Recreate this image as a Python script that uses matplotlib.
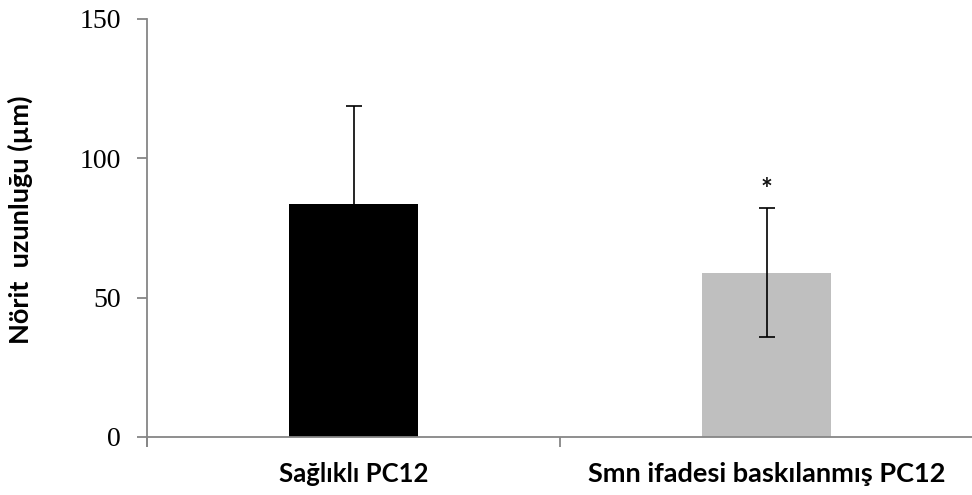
import matplotlib as mpl
mpl.use('Agg')
import matplotlib.pyplot as plt
import matplotlib.ticker as tick

# data
categories = ['Sağlıklı PC12', 'Smn ifadesi baskılanmış PC12']
means = [83.6, 59.0]
errs = [35.3, 23.0]
bar_colors = ['#000000', '#BFBFBF']
ylabel = 'Nörit  uzunluğu (µm)'
yticks = [0, 50, 100, 150]

axis_gray = '#868686'

fig = plt.figure(figsize=(9.72, 4.95), dpi=100)
ax = fig.add_axes([147/972, 1-437/495, (973-147)/972, (437-19)/495])

x = list(range(len(categories)))
ax.bar(x, means, width=0.31, color=bar_colors, zorder=2)
ax.errorbar(x, means, yerr=errs, fmt='none', ecolor='#000000', elinewidth=1.2,
            capsize=6, capthick=1.2, zorder=3)

# significance mark over the second bar
ax.text(x[1], means[1] + errs[1] + 6.5, '*', ha='center', va='center',
        fontsize=20, fontweight='bold', family='Lato', color='#111111')

ax.set_xlim(-0.5, len(categories) - 0.5)
ax.set_ylim(0, 150)

for s in ['top', 'right']:
    ax.spines[s].set_visible(False)
for s in ['left', 'bottom']:
    ax.spines[s].set_color(axis_gray)
    ax.spines[s].set_linewidth(1.3)
ax.spines['left'].set_bounds(-3.2, 150)

ax.set_yticks(yticks)
ax.set_yticklabels([str(v) for v in yticks], family='Liberation Serif', fontsize=20)
ax.xaxis.set_major_locator(tick.FixedLocator([-0.5, 0.5, 1.5]))
ax.xaxis.set_major_formatter(tick.NullFormatter())
ax.xaxis.set_minor_locator(tick.FixedLocator(x))
ax.xaxis.set_minor_formatter(tick.FixedFormatter(categories))
ax.tick_params(axis='x', which='major', direction='out', length=7, width=1.3, color=axis_gray)
ax.tick_params(axis='x', which='minor', length=0, pad=18)
ax.tick_params(axis='y', direction='out', length=7, width=1.3, color=axis_gray, pad=12)
for i, lab in enumerate(ax.get_xticklabels(minor=True)):
    lab.set_family('Lato')
    lab.set_fontweight('bold')
    lab.set_fontsize(18.5 if i == 0 else 19.5)

ax.set_ylabel(ylabel, family='Lato', fontweight='bold', fontsize=19.5)
ax.yaxis.set_label_coords(-0.138, 0.52)

fig.savefig('out.png', dpi=100)
